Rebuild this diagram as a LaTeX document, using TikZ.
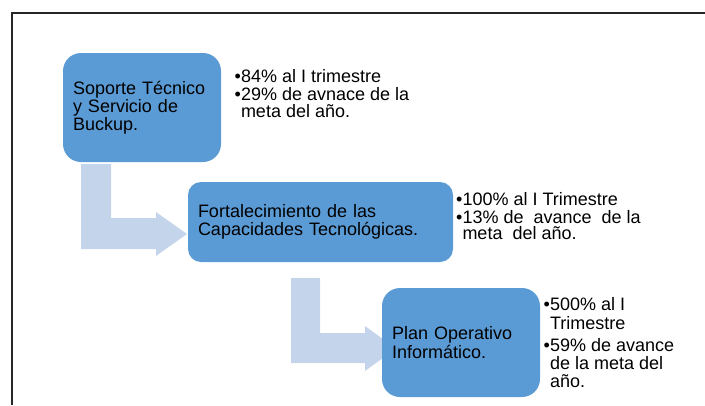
\documentclass[tikz,border=0pt]{standalone}
\usepackage{fontspec}
\setmainfont{Liberation Sans}
\definecolor{boxblue}{HTML}{5B9BD5}
\definecolor{arrowblue}{HTML}{C4D5EB}
\begin{document}
\begin{tikzpicture}[x=1pt,y=-1pt,
  box/.style={fill=boxblue, inner xsep=10pt, inner ysep=0pt, align=left,
    font=\fontsize{18}{18.2}\selectfont},
  info/.style={anchor=north west, inner sep=0pt, align=left},
  bentarrow/.style={fill=arrowblue, draw=none},
  frameline/.style={line width=1.3pt, draw=black!85}]
\useasboundingbox (0,0) rectangle (705,405);
% frame
\draw[frameline] (12,405) -- (12,13) -- (705,13);
% arrows
\fill[bentarrow] (81,164) -- (111,164) -- (111,218) -- (156,218) -- (156,212)
  -- (187,234) -- (156,256) -- (156,249) -- (81,249) -- cycle;
\fill[bentarrow] (291,278) -- (320,278) -- (320,333) -- (365,333) -- (365,326)
  -- (396,348.5) -- (365,371) -- (365,363) -- (291,363) -- cycle;
% boxes
\node[box, rounded corners=18pt, minimum width=158pt, minimum height=109pt, text width=138pt]
  (b1) at (142,107.5) {Soporte Técnico\\y Servicio de\\Buckup.};
\node[box, rounded corners=13pt, minimum width=265pt, minimum height=80pt, text width=245pt]
  (b2) at (320.5,222) {Fortalecimiento de las\\Capacidades Tecnológicas.};
\node[box, rounded corners=18pt, minimum width=158pt, minimum height=109pt, text width=138pt]
  (b3) at (461,342.5) {Plan Operativo\\Informático.};
% info texts
\node[info, font=\fontsize{18}{17}\selectfont] (t1) at (234.5,69)
  {•84\% al I trimestre\\[1.5pt]•29\% de avnace de la\\\hphantom{•}meta del año.};
\node[info, font=\fontsize{18}{16.3}\selectfont] (t2) at (456,192)
  {•100\% al I Trimestre\\[2pt]•13\% de \ avance \ de la\\\hphantom{•}meta \ del año.};
\node[info, font=\fontsize{18}{18.3}\selectfont] (t3) at (543.5,297.5)
  {•500\% al I\\\hphantom{•}Trimestre\\[4pt]•59\% de avance\\\hphantom{•}de la meta del\\\hphantom{•}año.};
\end{tikzpicture}
\end{document}
